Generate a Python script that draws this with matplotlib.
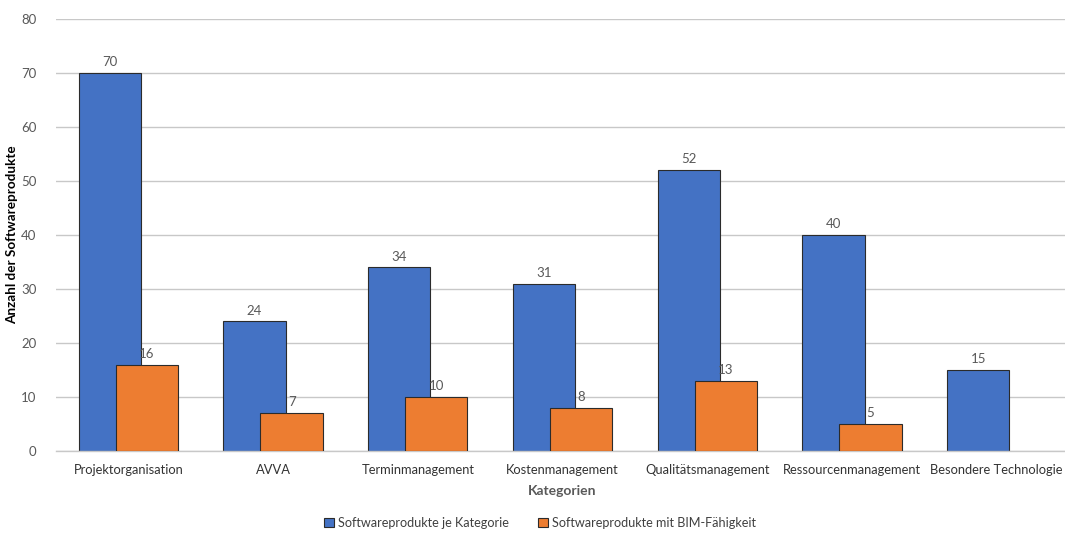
import numpy as np
import matplotlib.pyplot as plt

plt.rcParams['font.family'] = ['Lato', 'DejaVu Sans']

kategorien = ["Projektorganisation", "AVVA", "Terminmanagement", "Kostenmanagement",
              "Qualitätsmanagement", "Ressourcenmanagement", "Besondere Technologie"]
je_kategorie = [70, 24, 34, 31, 52, 40, 15]
mit_bim = [16, 7, 10, 8, 13, 5, None]

blau = "#4472C4"
orange = "#ED7D31"
grau = "#595959"

fig = plt.figure(figsize=(10.65, 5.34), dpi=100)
ax = fig.add_axes([56 / 1065, 83 / 534, 1013 / 1065, 432 / 534])

x = np.arange(len(kategorien))
w = 0.43
off = 0.128

b1 = ax.bar(x - off, je_kategorie, w, color=blau, edgecolor="#2b2b2b", linewidth=0.8,
            label="Softwareprodukte je Kategorie", zorder=2)
xb = [xi + off for xi, v in zip(x, mit_bim) if v is not None]
vb = [v for v in mit_bim if v is not None]
b2 = ax.bar(xb, vb, w, color=orange, edgecolor="#2b2b2b", linewidth=0.8,
            label="Softwareprodukte mit BIM-Fähigkeit", zorder=3)

# Werte über den Balken
for xi, v in list(zip(x - off, je_kategorie)) + list(zip(xb, vb)):
    ax.annotate(str(v), (xi, v), xytext=(0, 3.5), textcoords="offset points",
                ha="center", va="bottom", fontsize=9.5, color=grau)

ax.set_xlim(-0.5, len(kategorien) - 0.5)
ax.set_ylim(0, 80)
ax.set_yticks(range(0, 81, 10))
ax.set_xticks(x)
ax.set_xticklabels(kategorien, fontsize=9.3, color="#333333")
ax.tick_params(axis="y", labelsize=9.5, labelcolor=grau, length=0, pad=14)
ax.tick_params(axis="x", length=0, pad=9)
ax.yaxis.grid(True, color="#c8c8c8", linewidth=1, zorder=0)
ax.set_axisbelow(True)
for s in ["top", "right", "left"]:
    ax.spines[s].set_visible(False)
ax.spines["bottom"].set_color("#c8c8c8")
ax.spines["bottom"].set_linewidth(1)

ax.set_xlabel("Kategorien", fontsize=10, color=grau, fontweight="bold", labelpad=7)
ax.set_ylabel("Anzahl der Softwareprodukte", fontsize=9.7, fontweight="bold", color="black")
ax.yaxis.set_label_coords(-38 / 1013, 0.5)

leg = fig.legend(handles=[b1, b2], loc="center", bbox_to_anchor=(540 / 1065, 11 / 534), ncol=2,
                 frameon=False, fontsize=9.1, handlelength=0.8, handleheight=0.8,
                 handletextpad=0.3, columnspacing=2.3)
for t in leg.get_texts():
    t.set_color("#404040")

fig.savefig("out.png", dpi=100)
